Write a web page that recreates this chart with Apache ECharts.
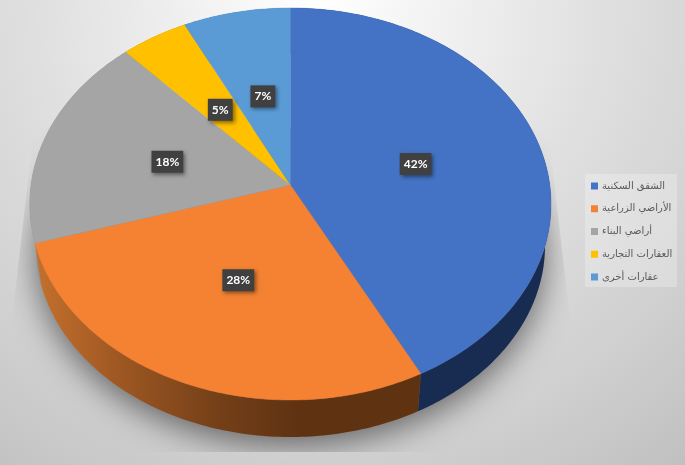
<!DOCTYPE html>
<html><head><meta charset="utf-8">
<style>html,body{margin:0;padding:0;background:#fff}#c{width:685px;height:465px}</style>
<script src="https://cdn.jsdelivr.net/npm/echarts@6/dist/echarts.min.js"></script>
</head><body><div id="c"></div>
<script>
const categories = ['الشقق السكنية','الأراضي الزراعية','أراضي البناء','العقارات التجارية','عقارات أخرى'];
const shares = [42.4, 27.9, 17.8, 4.6, 7.3];
const topColors = ['#4473c5','#f48232','#a5a5a5','#ffc000','#5b9bd5'];
const sideColors = ['#182c52', null, '#8c8c8c', '#9a7400', '#37608a'];
const orangeSideStops = [[0,'#c4702c'],[0.35,'#9a5522'],[0.7,'#733f18'],[1,'#5f3212']];

const chart = echarts.init(document.getElementById('c'), null, {renderer:'canvas'});
const total = shares.reduce((a,b)=>a+b,0);
const starts = shares.map((_,i)=>shares.slice(0,i).reduce((a,b)=>a+b,0));

// perspective of the tilted disc
const CX=290.4, CY=185, A=259.4, B=194.2, P=-0.0969;
const project=(pct,r)=>{
  const t=pct/total*2*Math.PI, u=r*Math.sin(t), v=-r*Math.cos(t), w=1+P*v;
  return [CX+A*u/w, CY+B*v/w];
};
const dropped=(p)=>[CX+(p[0]-CX)*0.977, 245.5+(p[1]-204)*0.977];
const arc=(s,e)=>{
  const n=Math.max(2,Math.ceil((e-s)*4)), pts=[];
  for(let i=0;i<=n;i++) pts.push(project(s+(e-s)*i/n,1));
  return pts;
};

const shadowSeries={
  type:'custom',coordinateSystem:'none',silent:true,z:1,animation:false,
  data:[[0]],
  renderItem(){
    const pts=[];
    for(let i=0;i<120;i++){const p=dropped(project(i/120*total,1));pts.push([p[0]-2000,p[1]+9]);}
    return {type:'group',
      clipPath:{type:'polygon',shape:{points:[[34,128],[548,128],[570,320],[570,452],[12,452],[12,320]]}},
      children:[{type:'polygon',shape:{points:pts},
        style:{fill:'#000',shadowColor:'rgba(60,60,60,0.72)',shadowBlur:32,shadowOffsetX:2000,shadowOffsetY:0}}]};
  }
};
const sideSeries={
  type:'custom',coordinateSystem:'none',silent:true,z:2,animation:false,
  data:shares.map((v,i)=>[v,starts[i],i]),
  renderItem(params,api){
    const v=api.value(0), s=api.value(1), i=api.value(2);
    const top=arc(s,s+v), low=top.map(dropped).reverse();
    const fill=sideColors[i]||{type:'linear',x:36,y:0,x2:300,y2:0,global:true,
      colorStops:orangeSideStops.map(c=>({offset:c[0],color:c[1]}))};
    return {type:'polygon',shape:{points:top.concat(low)},style:{fill}};
  }
};
const sliceSeries=categories.map((name,i)=>({
  name,type:'custom',coordinateSystem:'none',silent:true,z:3,animation:false,
  itemStyle:{color:topColors[i]},
  data:[[shares[i],starts[i]]],
  renderItem(params,api){
    const v=api.value(0), s=api.value(1);
    const pts=[[CX,CY]].concat(arc(s,s+v));
    return {type:'polygon',shape:{points:pts},
      style:{fill:topColors[i],stroke:topColors[i],lineWidth:0.4}};
  }
}));
const labelSeries={
  type:'custom',coordinateSystem:'none',silent:true,z:4,animation:false,
  data:shares.map((v,i)=>[v,starts[i]]),
  renderItem(params,api){
    const v=api.value(0), s=api.value(1), p=project(s+v/2,0.5);
    return {type:'text',style:{text:Math.round(v)+'%',x:p[0]+0.6,y:p[1]+1.7,align:'center',verticalAlign:'middle',
      fill:'#fff',font:'bold 12px Lato, "Open Sans", sans-serif',backgroundColor:'#404040',padding:[5,4,5,4],
      shadowColor:'rgba(0,0,0,0.45)',shadowBlur:4,shadowOffsetX:2,shadowOffsetY:2}};
  }
};

chart.setOption({
  animation:false,
  backgroundColor:{type:'radial',x:320,y:0,r:600,global:true,colorStops:[
    {offset:0,color:'#ffffff'},{offset:0.5,color:'#dedede'},{offset:0.75,color:'#d0d0d0'},{offset:1,color:'#bfbfbf'}]},
  graphic:[{type:'rect',shape:{x:585,y:174,width:92,height:113},z:0,silent:true,style:{fill:'rgba(255,255,255,0.25)'}}],
  legend:{orient:'vertical',left:591,top:181,padding:0,itemWidth:7,itemHeight:7,itemGap:12.75,align:'left',
    icon:'rect',selectedMode:false,data:categories,
    textStyle:{color:'#595959',fontSize:10,fontFamily:'"DejaVu Sans", sans-serif',padding:[0,0,0,-1]}},
  series:[shadowSeries,sideSeries].concat(sliceSeries,[labelSeries])
});
</script></body></html>
